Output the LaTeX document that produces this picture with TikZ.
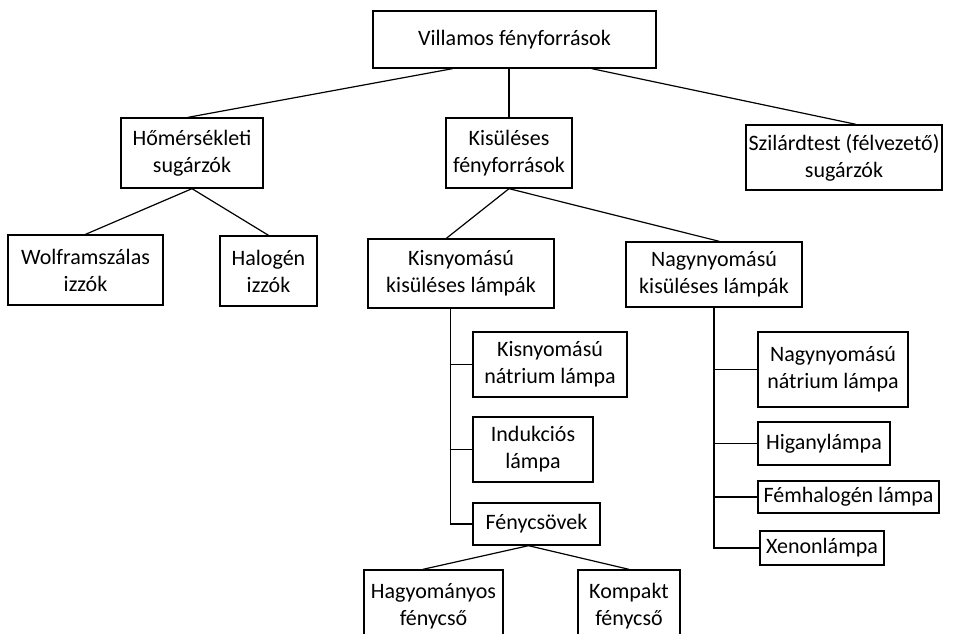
\documentclass[tikz,border=0pt]{standalone}
\usepackage{fontspec}
\setmainfont{Carlito}
\usepackage{tikz}
\usetikzlibrary{positioning,calc}
\tikzset{
  lamp/.style={draw,line width=1pt,align=center,inner sep=1pt,
    font=\fontsize{16.5}{20.25}\selectfont},
  sz/.style 2 args={minimum width=#1*0.75pt,minimum height=#2*0.75pt},
  ln/.style={line width=0.9pt},
}

\begin{document}
\begin{tikzpicture}[x=0.75pt,y=-0.75pt]
  \clip (0,0) rectangle (966,633);
  % top level
  \node[lamp,sz={283}{57}] (top) at (514.5,39.5) {Villamos fényforrások};
  \node[lamp,sz={142}{70}] (hom) at (192,153) {Hőmérsékleti\\sugárzók};
  \node[lamp,sz={126}{70}] (kis) at (509,153) {Kisüléses\\fényforrások};
  \node[lamp,sz={196}{65}] (szil) at (844,157.5) {Szilárdtest (félvezető)\\sugárzók};
  % thermal radiators
  \node[lamp,sz={155}{70}] (wolf) at (85.5,270) {Wolframszálas\\izzók};
  \node[lamp,sz={97}{70}] (halo) at (268.5,271) {Halogén\\izzók};
  % discharge lamps
  \node[lamp,sz={186}{69}] (kisny) at (461,273.5) {Kisnyomású\\kisüléses lámpák};
  \node[lamp,sz={176}{65}] (nagyny) at (714,274.5) {Nagynyomású\\kisüléses lámpák};
  \node[lamp,sz={154}{65}] (knat) at (550,364.5) {Kisnyomású\\nátrium lámpa};
  \node[lamp,sz={120}{65}] (indu) at (533,449.5) {Indukciós\\lámpa};
  \node[lamp,sz={127}{42}] (fcs) at (536.5,524) {Fénycsövek};
  \node[lamp,sz={139}{72}] (hagy) at (433.5,606) {Hagyományos\\fénycső};
  \node[lamp,sz={102}{72}] (komp) at (629,606) {Kompakt\\fénycső};
  \node[lamp,sz={150}{75}] (nnat) at (833,369.5) {Nagynyomású\\nátrium lámpa};
  \node[lamp,sz={132}{43}] (higany) at (824,443.5) {Higanylámpa};
  \node[lamp,sz={181}{32}] (femh) at (848.5,497) {Fémhalogén lámpa};
  \node[lamp,sz={124}{34}] (xenon) at (822,548) {Xenonlámpa};

  % connectors
  \draw[ln] ([xshift=-46.5]top.south) -- ([xshift=-3]hom.north);
  \draw[ln] (top.south -| kis.north) -- (kis.north);
  \draw[ln] ([xshift=58]top.south) -- ([xshift=9]szil.north);
  \draw[ln] (hom.south) -- (wolf.north);
  \draw[ln] (hom.south) -- (halo.north);
  \draw[ln] (kis.south) -- ([xshift=-11]kisny.north);
  \draw[ln] (kis.south) -- ([xshift=4]nagyny.north);
  \coordinate (ktrunk) at ([xshift=-8]kisny.south);
  \draw[ln] (ktrunk) |- (fcs.west);
  \draw[ln] (ktrunk) |- (knat.west);
  \draw[ln] (ktrunk) |- (indu.west);
  \draw[ln] (nagyny.south) |- (xenon.west);
  \draw[ln] (nagyny.south) |- (nnat.west);
  \draw[ln] (nagyny.south) |- (higany.west);
  \draw[ln] (nagyny.south) |- (femh.west);
  \draw[ln] ([xshift=-6]fcs.south) -- ([xshift=-8]hagy.north);
  \draw[ln] ([xshift=-6]fcs.south) -- (komp.north);
\end{tikzpicture}
\end{document}
